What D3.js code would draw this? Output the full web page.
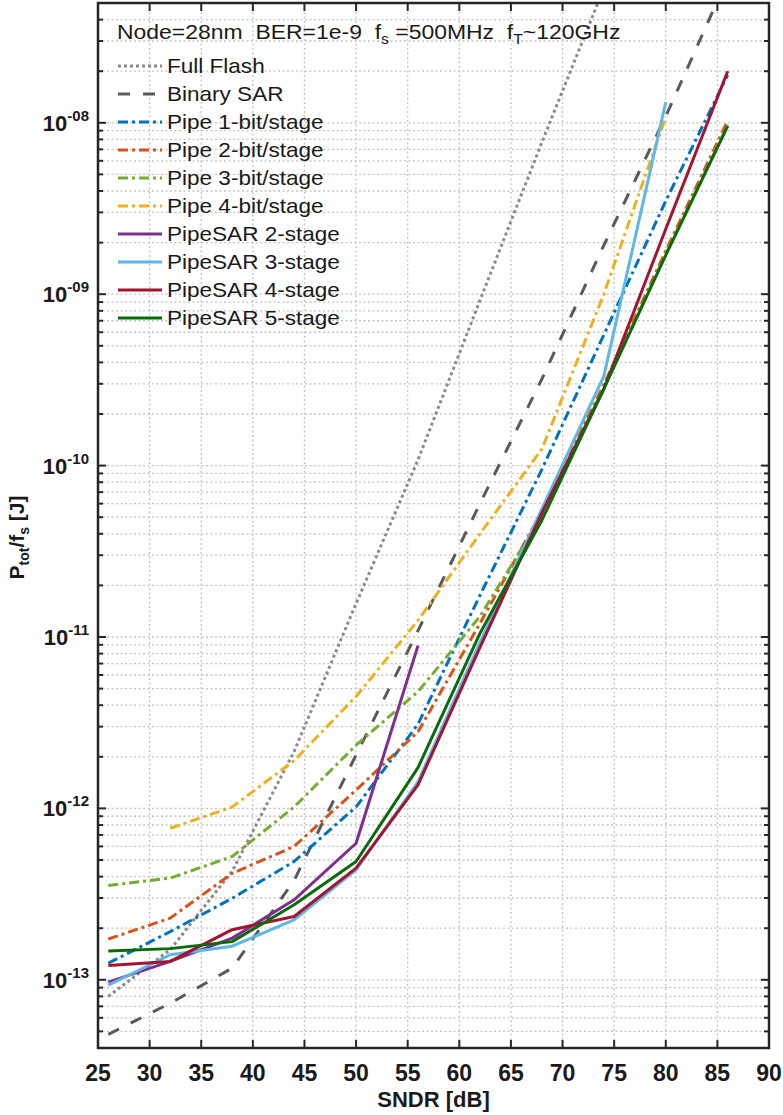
<!DOCTYPE html>
<html>
<head>
<meta charset="utf-8">
<script src="https://cdn.jsdelivr.net/npm/d3@7"></script>
<style>
  html, body { margin: 0; padding: 0; background: #fff; }
  svg { display: block; font-family: "Liberation Sans", Arial, sans-serif; }
  text { white-space: pre; }
</style>
</head>
<body>
<svg id="chart" width="783" height="1115"></svg>
<script>
// SNDR sample points [dB]
const sndr = [26, 32, 38, 44, 50, 56, 62, 68, 74, 80, 86];

// Energy per conversion P_tot/f_s [J] for each architecture (null = not computed)
const fullFlash  = [8.0e-14, 1.5e-13, 4.3e-13, 2.15e-12, 1.57e-11, 1.08e-10, 9.2e-10, 7.7e-9, 6.1e-8, null, null];
const binarySar  = [4.8e-14, 7.3e-14, 1.17e-13, 3.8e-13, 2.05e-12, 1.09e-11, 6.0e-11, 3.2e-10, 1.93e-9, 1.09e-8, 7.0e-8];
const pipe1      = [1.25e-13, 1.91e-13, 2.99e-13, 4.9e-13, 1.02e-12, 3.1e-12, 1.75e-11, 9.5e-11, 5.8e-10, 3.5e-9, 1.9e-8];
const pipe2      = [1.73e-13, 2.29e-13, 4.18e-13, 6.0e-13, 1.28e-12, 2.8e-12, 1.2e-11, 5.4e-11, 2.97e-10, 1.79e-9, 1.03e-8];
const pipe3      = [3.55e-13, 3.92e-13, 5.24e-13, 1.02e-12, 2.34e-12, 4.8e-12, 1.32e-11, 5.1e-11, 2.85e-10, 1.72e-9, 9.7e-9];
const pipe4      = [null, 7.66e-13, 1.02e-12, 1.9e-12, 4.5e-12, 1.25e-11, 4.0e-11, 1.25e-10, 1.0e-9, 1.08e-8, null];
const pipeSar2   = [9.7e-14, 1.28e-13, 1.75e-13, 2.93e-13, 6.26e-13, 8.9e-12, null, null, null, null, null];
const pipeSar3   = [9.3e-14, 1.40e-13, 1.57e-13, 2.24e-13, 4.38e-13, 1.43e-12, 9.3e-12, 5.6e-11, 3.33e-10, 1.32e-8, null];
const pipeSar4   = [1.21e-13, 1.28e-13, 1.96e-13, 2.34e-13, 4.48e-13, 1.37e-12, 8.7e-12, 5.3e-11, 2.8e-10, 2.4e-9, 2.0e-8];
const pipeSar5   = [1.47e-13, 1.52e-13, 1.67e-13, 2.74e-13, 4.9e-13, 1.73e-12, 1.05e-11, 4.8e-11, 2.8e-10, 1.69e-9, 9.56e-9];

const seriesNames = ["Full Flash", "Binary SAR", "Pipe 1-bit/stage", "Pipe 2-bit/stage",
  "Pipe 3-bit/stage", "Pipe 4-bit/stage", "PipeSAR 2-stage", "PipeSAR 3-stage",
  "PipeSAR 4-stage", "PipeSAR 5-stage"];
const seriesValues = [fullFlash, binarySar, pipe1, pipe2, pipe3, pipe4, pipeSar2, pipeSar3, pipeSar4, pipeSar5];

const xTicks = d3.range(25, 91, 5);
const yMajor = [1e-13, 1e-12, 1e-11, 1e-10, 1e-9, 1e-8];

// line styling per series
const dashDot = "10 4 3 4";
const styles = [
  { color: "#8a8a8a", dash: "3 3" },
  { color: "#5a5a5a", dash: "12 13" },
  { color: "#0072BD", dash: dashDot },
  { color: "#D95319", dash: dashDot },
  { color: "#77AC30", dash: dashDot },
  { color: "#EDB120", dash: dashDot },
  { color: "#7E2F8E", dash: null },
  { color: "#5EB8E6", dash: null },
  { color: "#A2142F", dash: null },
  { color: "#0B6A0B", dash: null }
];

const svg = d3.select("#chart");
const L = 98, R = 769, T = 3, B = 1048;

const x = d3.scaleLinear().domain([25, 90]).range([L, R]);
const y = d3.scaleLog().domain([4e-14, 5e-8]).range([B, T]);

// minor (2..9) and major log ticks inside the domain
const yAll = [];
for (let e = -14; e <= -8; e++) {
  for (let m = 1; m <= 9; m++) {
    const v = m * Math.pow(10, e);
    if (v >= 4e-14 && v <= 5e-8) yAll.push({ v, major: m === 1 });
  }
}

const gridColor = "#c4c4c4";
const grid = svg.append("g");
grid.selectAll("line.h").data(yAll).join("line")
  .attr("x1", L).attr("x2", R)
  .attr("y1", d => y(d.v)).attr("y2", d => y(d.v))
  .attr("stroke", gridColor).attr("stroke-width", 1.3).attr("stroke-dasharray", "2 2.5");
grid.selectAll("line.v").data(xTicks.slice(1, -1)).join("line")
  .attr("x1", d => x(d)).attr("x2", d => x(d))
  .attr("y1", T).attr("y2", B)
  .attr("stroke", gridColor).attr("stroke-width", 1.3).attr("stroke-dasharray", "2 2.5");

// data lines
svg.append("defs").append("clipPath").attr("id", "plotArea")
  .append("rect").attr("x", L).attr("y", T).attr("width", R - L).attr("height", B - T);

const line = d3.line()
  .defined(d => d.v != null)
  .x(d => x(d.s))
  .y(d => y(d.v));

const plot = svg.append("g").attr("clip-path", "url(#plotArea)");
seriesValues.forEach((vals, i) => {
  const pts = sndr.map((s, k) => ({ s, v: vals[k] }));
  plot.append("path")
    .datum(pts)
    .attr("d", line)
    .attr("fill", "none")
    .attr("stroke", styles[i].color)
    .attr("stroke-width", 3)
    .attr("stroke-dasharray", styles[i].dash)
    .attr("stroke-linejoin", "round");
});

// axis ticks (inward, on all four sides)
const axisColor = "#262626";
const ticks = svg.append("g").attr("stroke", axisColor).attr("stroke-width", 2);
xTicks.slice(1, -1).forEach(t => {
  ticks.append("line").attr("x1", x(t)).attr("x2", x(t)).attr("y1", B).attr("y2", B - 8);
  ticks.append("line").attr("x1", x(t)).attr("x2", x(t)).attr("y1", T).attr("y2", T + 8);
});
yAll.forEach(d => {
  const len = d.major ? 8 : 5;
  ticks.append("line").attr("x1", L).attr("x2", L + len).attr("y1", y(d.v)).attr("y2", y(d.v));
  ticks.append("line").attr("x1", R).attr("x2", R - len).attr("y1", y(d.v)).attr("y2", y(d.v));
});

// frame
svg.append("rect").attr("x", L).attr("y", T).attr("width", R - L).attr("height", B - T)
  .attr("fill", "none").attr("stroke", axisColor).attr("stroke-width", 2.5);

// x tick labels
svg.append("g").selectAll("text").data(xTicks).join("text")
  .attr("x", d => x(d)).attr("y", B + 33)
  .attr("text-anchor", "middle")
  .attr("font-size", 23).attr("font-weight", "bold").attr("fill", "#1a1a1a")
  .text(d => d);

// y tick labels: 10^-XX
const yl = svg.append("g");
yMajor.forEach(v => {
  const e = Math.round(Math.log10(v));
  const t = yl.append("text")
    .attr("x", L - 9).attr("y", y(v) + 8)
    .attr("text-anchor", "end")
    .attr("font-weight", "bold").attr("fill", "#1a1a1a");
  t.append("tspan").attr("font-size", 22).text("10");
  t.append("tspan").attr("font-size", 15).attr("dy", -10)
    .text("-" + String(Math.abs(e)).padStart(2, "0"));
});

// axis titles
svg.append("text")
  .attr("x", x(57.5)).attr("y", 1107)
  .attr("text-anchor", "middle")
  .attr("font-size", 22).attr("font-weight", "bold").attr("fill", "#1a1a1a")
  .text("SNDR [dB]");

const yt = svg.append("text")
  .attr("transform", `translate(24, ${(T + B) / 2 + 12}) rotate(-90)`)
  .attr("text-anchor", "middle")
  .attr("font-size", 21).attr("font-weight", "bold").attr("fill", "#1a1a1a");
yt.append("tspan").text("P");
yt.append("tspan").attr("font-size", 14).attr("dy", 5).text("tot");
yt.append("tspan").attr("dy", -5).text("/f");
yt.append("tspan").attr("font-size", 14).attr("dy", 5).text("s");
yt.append("tspan").attr("dy", -5).text(" [J]");

// header line with operating conditions (slightly widened face)
const hdr = svg.append("text")
  .attr("transform", "translate(117,39) scale(1.12,1)")
  .attr("font-size", 20.5).attr("fill", "#1a1a1a");
hdr.append("tspan").text("Node=28nm  BER=1e-9  f");
hdr.append("tspan").attr("font-size", 14).attr("dy", 5).text("s");
hdr.append("tspan").attr("dy", -5).text(" =500MHz  f");
hdr.append("tspan").attr("font-size", 14).attr("dy", 5).text("T");
hdr.append("tspan").attr("dy", -5).text("~120GHz");

// legend
const leg = svg.append("g");
seriesNames.forEach((name, i) => {
  const cy = 66 + i * 28;
  leg.append("line")
    .attr("x1", 118).attr("x2", 162).attr("y1", cy).attr("y2", cy)
    .attr("stroke", styles[i].color).attr("stroke-width", 3)
    .attr("stroke-dasharray", styles[i].dash);
  leg.append("text")
    .attr("transform", `translate(167,${cy + 7}) scale(1.1,1)`)
    .attr("font-size", 20.5).attr("fill", "#1a1a1a")
    .text(name);
});
</script>
</body>
</html>
